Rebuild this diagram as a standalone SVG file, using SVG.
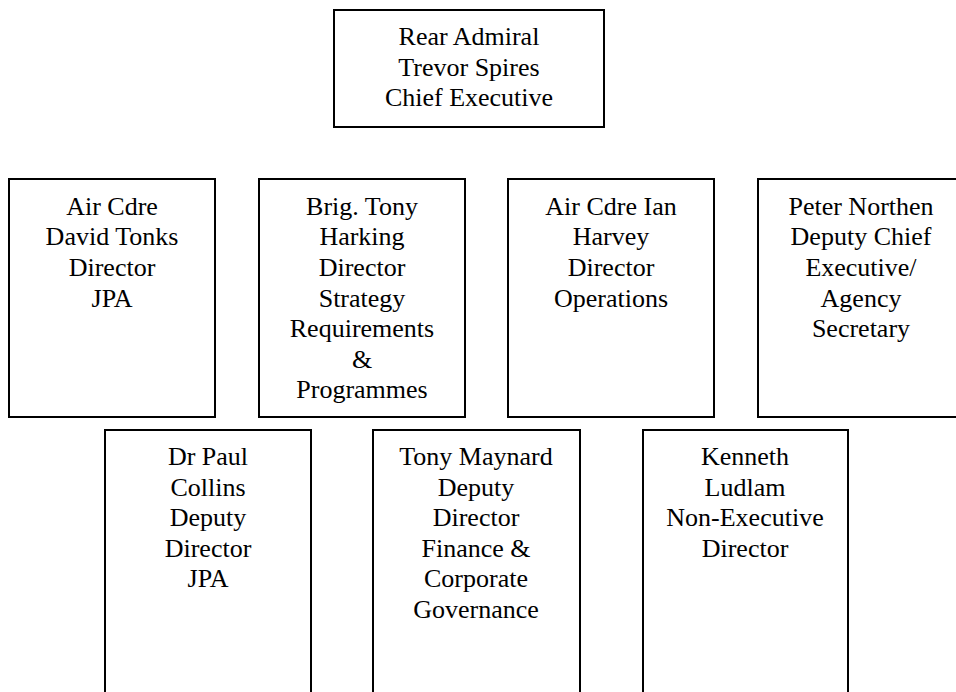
<svg xmlns="http://www.w3.org/2000/svg" width="956" height="692" viewBox="0 0 956 692">
<style>
rect{fill:#fff;stroke:#000;stroke-width:2}
text{font-size:26px;fill:#000;text-anchor:middle}
</style>
<g font-family="'Liberation Serif', 'Times New Roman', 'DejaVu Serif', serif">
<g id="connectors"></g>
<g id="ceo">
<rect x="334" y="10" width="270" height="117"/>
<text x="469" y="45">Rear Admiral</text>
<text x="469" y="76">Trevor Spires</text>
<text x="469" y="106">Chief Executive</text>
</g>
<g id="tonks">
<rect x="9" y="179" width="206" height="238"/>
<text x="112" y="215">Air Cdre</text>
<text x="112" y="245">David Tonks</text>
<text x="112" y="276">Director</text>
<text x="112" y="307">JPA</text>
</g>
<g id="harking">
<rect x="259" y="179" width="206" height="238"/>
<text x="362" y="215">Brig. Tony</text>
<text x="362" y="245">Harking</text>
<text x="362" y="276">Director</text>
<text x="362" y="307">Strategy</text>
<text x="362" y="337">Requirements</text>
<text x="362" y="368">&amp;</text>
<text x="362" y="398">Programmes</text>
</g>
<g id="harvey">
<rect x="508" y="179" width="206" height="238"/>
<text x="611" y="215">Air Cdre Ian</text>
<text x="611" y="245">Harvey</text>
<text x="611" y="276">Director</text>
<text x="611" y="307">Operations</text>
</g>
<g id="northen">
<rect x="758" y="179" width="206" height="238"/>
<text x="861" y="215">Peter Northen</text>
<text x="861" y="245">Deputy Chief</text>
<text x="861" y="276">Executive/</text>
<text x="861" y="307">Agency</text>
<text x="861" y="337">Secretary</text>
</g>
<g id="collins">
<rect x="105" y="430" width="206" height="280"/>
<text x="208" y="465">Dr Paul</text>
<text x="208" y="496">Collins</text>
<text x="208" y="526">Deputy</text>
<text x="208" y="557">Director</text>
<text x="208" y="587">JPA</text>
</g>
<g id="maynard">
<rect x="373" y="430" width="207" height="280"/>
<text x="476" y="465">Tony Maynard</text>
<text x="476" y="496">Deputy</text>
<text x="476" y="526">Director</text>
<text x="476" y="557">Finance &amp;</text>
<text x="476" y="587">Corporate</text>
<text x="476" y="618">Governance</text>
</g>
<g id="ludlam">
<rect x="643" y="430" width="205" height="280"/>
<text x="745" y="465">Kenneth</text>
<text x="745" y="496">Ludlam</text>
<text x="745" y="526">Non-Executive</text>
<text x="745" y="557">Director</text>
</g>
</g>
</svg>
